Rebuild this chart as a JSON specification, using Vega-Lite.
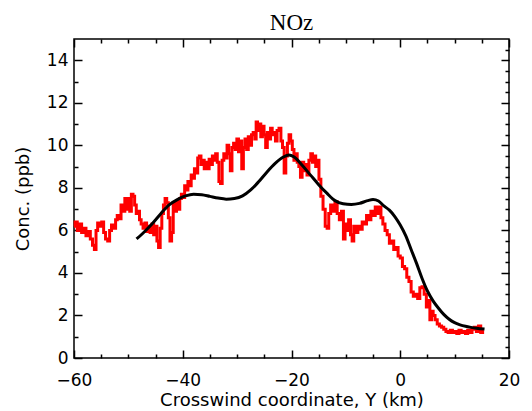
{
  "$schema": "https://vega.github.io/schema/vega-lite/v6.json",
  "width": 435,
  "height": 319,
  "autosize": "none",
  "padding": {"left": 74, "top": 39, "right": 23, "bottom": 53},
  "background": "white",
  "title": {"text": "NOz", "font": "Liberation Serif", "fontSize": 23, "fontWeight": "normal", "color": "black", "offset": 3},
  "config": {
    "view": {"stroke": "black", "strokeWidth": 1.5},
    "axis": {
      "domain": false,
      "tickColor": "black", "tickWidth": 1.5, "ticks": true, "tickSize": 8, "offset": -8,
      "labelFont": "DejaVu Sans", "labelFontSize": 17, "labelColor": "black",
      "titleFont": "DejaVu Sans", "titleFontSize": 18, "titleFontWeight": "normal", "titleColor": "black",
      "grid": false
    }
  },
  "datasets": {
    "measured": [
      {"y_km": -60.0, "conc": 6.2}, {"y_km": -59.6, "conc": 6.4}, {"y_km": -59.2, "conc": 6.0}, {"y_km": -58.8, "conc": 6.3},
      {"y_km": -58.4, "conc": 5.9}, {"y_km": -58.0, "conc": 6.1}, {"y_km": -57.6, "conc": 5.75}, {"y_km": -57.2, "conc": 5.95},
      {"y_km": -56.8, "conc": 5.6}, {"y_km": -56.4, "conc": 5.3}, {"y_km": -56.1, "conc": 5.1}, {"y_km": -55.8, "conc": 6.0},
      {"y_km": -55.5, "conc": 6.35}, {"y_km": -55.1, "conc": 6.2}, {"y_km": -54.7, "conc": 6.4}, {"y_km": -54.4, "conc": 5.9},
      {"y_km": -54.0, "conc": 5.6}, {"y_km": -53.6, "conc": 5.5}, {"y_km": -53.3, "conc": 6.0}, {"y_km": -52.9, "conc": 6.25},
      {"y_km": -52.5, "conc": 6.1}, {"y_km": -52.2, "conc": 6.5}, {"y_km": -51.9, "conc": 6.7}, {"y_km": -51.5, "conc": 6.55},
      {"y_km": -51.2, "conc": 7.2}, {"y_km": -50.8, "conc": 6.9}, {"y_km": -50.5, "conc": 7.5}, {"y_km": -50.2, "conc": 7.0},
      {"y_km": -49.9, "conc": 7.5}, {"y_km": -49.6, "conc": 6.9}, {"y_km": -49.3, "conc": 7.7}, {"y_km": -49.0, "conc": 7.6},
      {"y_km": -48.7, "conc": 7.2}, {"y_km": -48.4, "conc": 6.8}, {"y_km": -48.1, "conc": 6.9}, {"y_km": -47.8, "conc": 6.5},
      {"y_km": -47.5, "conc": 6.3}, {"y_km": -47.1, "conc": 6.1}, {"y_km": -46.8, "conc": 6.35}, {"y_km": -46.5, "conc": 5.95},
      {"y_km": -46.2, "conc": 6.2}, {"y_km": -45.8, "conc": 5.9}, {"y_km": -45.5, "conc": 6.3}, {"y_km": -45.2, "conc": 5.8},
      {"y_km": -44.9, "conc": 6.2}, {"y_km": -44.6, "conc": 5.5}, {"y_km": -44.3, "conc": 5.2}, {"y_km": -44.0, "conc": 6.1},
      {"y_km": -43.7, "conc": 6.8}, {"y_km": -43.4, "conc": 7.2}, {"y_km": -43.1, "conc": 7.5}, {"y_km": -42.8, "conc": 7.3},
      {"y_km": -42.5, "conc": 6.6}, {"y_km": -42.2, "conc": 5.5}, {"y_km": -41.9, "conc": 5.9}, {"y_km": -41.6, "conc": 7.3},
      {"y_km": -41.3, "conc": 6.9}, {"y_km": -41.0, "conc": 7.4}, {"y_km": -40.7, "conc": 7.0}, {"y_km": -40.4, "conc": 7.5},
      {"y_km": -40.1, "conc": 7.7}, {"y_km": -39.8, "conc": 7.55}, {"y_km": -39.5, "conc": 8.1}, {"y_km": -39.2, "conc": 7.9},
      {"y_km": -38.9, "conc": 8.3}, {"y_km": -38.6, "conc": 8.1}, {"y_km": -38.3, "conc": 8.6}, {"y_km": -38.0, "conc": 8.45},
      {"y_km": -37.7, "conc": 8.9}, {"y_km": -37.4, "conc": 8.7}, {"y_km": -37.1, "conc": 9.4}, {"y_km": -36.8, "conc": 9.5},
      {"y_km": -36.5, "conc": 9.1}, {"y_km": -36.2, "conc": 9.3}, {"y_km": -35.9, "conc": 8.9}, {"y_km": -35.6, "conc": 9.2},
      {"y_km": -35.3, "conc": 8.9}, {"y_km": -35.0, "conc": 9.35}, {"y_km": -34.7, "conc": 9.1}, {"y_km": -34.4, "conc": 9.5},
      {"y_km": -34.1, "conc": 9.3}, {"y_km": -33.8, "conc": 9.6}, {"y_km": -33.5, "conc": 9.2}, {"y_km": -33.2, "conc": 8.3},
      {"y_km": -32.9, "conc": 8.2}, {"y_km": -32.6, "conc": 9.3}, {"y_km": -32.3, "conc": 9.6}, {"y_km": -32.0, "conc": 9.4},
      {"y_km": -31.7, "conc": 10.0}, {"y_km": -31.4, "conc": 9.6}, {"y_km": -31.1, "conc": 8.8}, {"y_km": -30.8, "conc": 9.9},
      {"y_km": -30.5, "conc": 10.1}, {"y_km": -30.2, "conc": 9.8}, {"y_km": -29.9, "conc": 10.3}, {"y_km": -29.6, "conc": 9.7},
      {"y_km": -29.3, "conc": 10.2}, {"y_km": -29.0, "conc": 8.9}, {"y_km": -28.7, "conc": 9.9}, {"y_km": -28.4, "conc": 10.3},
      {"y_km": -28.1, "conc": 9.8}, {"y_km": -27.8, "conc": 10.4}, {"y_km": -27.5, "conc": 10.0}, {"y_km": -27.2, "conc": 10.5},
      {"y_km": -26.9, "conc": 10.6}, {"y_km": -26.6, "conc": 10.3}, {"y_km": -26.4, "conc": 11.1}, {"y_km": -26.1, "conc": 10.7},
      {"y_km": -25.8, "conc": 11.0}, {"y_km": -25.5, "conc": 10.4}, {"y_km": -25.2, "conc": 10.9}, {"y_km": -24.9, "conc": 10.5},
      {"y_km": -24.6, "conc": 9.9}, {"y_km": -24.3, "conc": 10.6}, {"y_km": -24.0, "conc": 10.3}, {"y_km": -23.7, "conc": 10.8},
      {"y_km": -23.4, "conc": 10.5}, {"y_km": -23.1, "conc": 10.6}, {"y_km": -22.8, "conc": 10.2}, {"y_km": -22.5, "conc": 10.7},
      {"y_km": -22.1, "conc": 10.8}, {"y_km": -21.8, "conc": 10.2}, {"y_km": -21.5, "conc": 9.9}, {"y_km": -21.2, "conc": 8.7},
      {"y_km": -20.9, "conc": 9.5}, {"y_km": -20.6, "conc": 10.1}, {"y_km": -20.3, "conc": 10.5}, {"y_km": -20.0, "conc": 10.2},
      {"y_km": -19.7, "conc": 9.8}, {"y_km": -19.4, "conc": 9.3}, {"y_km": -19.1, "conc": 9.6}, {"y_km": -18.8, "conc": 9.2},
      {"y_km": -18.5, "conc": 9.0}, {"y_km": -18.2, "conc": 8.5}, {"y_km": -17.9, "conc": 9.2}, {"y_km": -17.6, "conc": 8.8},
      {"y_km": -17.3, "conc": 9.1}, {"y_km": -17.0, "conc": 8.6}, {"y_km": -16.6, "conc": 9.3}, {"y_km": -16.3, "conc": 9.6},
      {"y_km": -16.0, "conc": 9.2}, {"y_km": -15.7, "conc": 9.5}, {"y_km": -15.4, "conc": 9.0}, {"y_km": -15.1, "conc": 9.3},
      {"y_km": -14.8, "conc": 8.4}, {"y_km": -14.4, "conc": 7.6}, {"y_km": -14.0, "conc": 7.0}, {"y_km": -13.6, "conc": 6.2},
      {"y_km": -13.3, "conc": 6.1}, {"y_km": -13.0, "conc": 6.8}, {"y_km": -12.6, "conc": 7.2}, {"y_km": -12.2, "conc": 6.9},
      {"y_km": -11.8, "conc": 7.35}, {"y_km": -11.4, "conc": 6.8}, {"y_km": -11.0, "conc": 6.5}, {"y_km": -10.6, "conc": 6.9},
      {"y_km": -10.3, "conc": 5.6}, {"y_km": -10.0, "conc": 6.3}, {"y_km": -9.7, "conc": 6.0}, {"y_km": -9.3, "conc": 6.5},
      {"y_km": -9.0, "conc": 5.8}, {"y_km": -8.7, "conc": 5.5}, {"y_km": -8.4, "conc": 6.2}, {"y_km": -8.0, "conc": 5.9},
      {"y_km": -7.6, "conc": 6.2}, {"y_km": -7.2, "conc": 6.05}, {"y_km": -6.8, "conc": 6.4}, {"y_km": -6.4, "conc": 6.3},
      {"y_km": -6.0, "conc": 6.7}, {"y_km": -5.6, "conc": 6.5}, {"y_km": -5.2, "conc": 6.9}, {"y_km": -4.8, "conc": 6.7},
      {"y_km": -4.4, "conc": 7.1}, {"y_km": -4.0, "conc": 6.8}, {"y_km": -3.7, "conc": 7.1}, {"y_km": -3.4, "conc": 6.6},
      {"y_km": -3.0, "conc": 6.3}, {"y_km": -2.6, "conc": 6.0}, {"y_km": -2.2, "conc": 5.8}, {"y_km": -1.8, "conc": 5.4},
      {"y_km": -1.4, "conc": 5.5}, {"y_km": -1.0, "conc": 5.1}, {"y_km": -0.6, "conc": 5.2}, {"y_km": -0.2, "conc": 4.8},
      {"y_km": 0.2, "conc": 4.7}, {"y_km": 0.6, "conc": 4.3}, {"y_km": 1.0, "conc": 4.2}, {"y_km": 1.4, "conc": 3.8},
      {"y_km": 1.8, "conc": 3.6}, {"y_km": 2.2, "conc": 3.1}, {"y_km": 2.6, "conc": 2.9}, {"y_km": 3.0, "conc": 3.0},
      {"y_km": 3.4, "conc": 2.8}, {"y_km": 3.8, "conc": 3.3}, {"y_km": 4.2, "conc": 3.35}, {"y_km": 4.6, "conc": 3.0},
      {"y_km": 5.0, "conc": 2.4}, {"y_km": 5.3, "conc": 2.7}, {"y_km": 5.6, "conc": 1.8}, {"y_km": 5.9, "conc": 2.2},
      {"y_km": 6.2, "conc": 2.0}, {"y_km": 6.6, "conc": 1.8}, {"y_km": 7.0, "conc": 1.6}, {"y_km": 7.4, "conc": 1.5},
      {"y_km": 7.8, "conc": 1.45}, {"y_km": 8.2, "conc": 1.35}, {"y_km": 8.6, "conc": 1.25}, {"y_km": 9.0, "conc": 1.2},
      {"y_km": 9.4, "conc": 1.3}, {"y_km": 9.8, "conc": 1.2}, {"y_km": 10.2, "conc": 1.25}, {"y_km": 10.6, "conc": 1.15},
      {"y_km": 11.0, "conc": 1.3}, {"y_km": 11.4, "conc": 1.2}, {"y_km": 11.8, "conc": 1.25}, {"y_km": 12.2, "conc": 1.15},
      {"y_km": 12.6, "conc": 1.3}, {"y_km": 13.0, "conc": 1.2}, {"y_km": 13.4, "conc": 1.35}, {"y_km": 13.8, "conc": 1.45},
      {"y_km": 14.2, "conc": 1.25}, {"y_km": 14.6, "conc": 1.5}, {"y_km": 15.0, "conc": 1.2}, {"y_km": 15.3, "conc": 1.3}
    ],
    "model": [
      {"y_km": -48.5, "conc": 5.6}, {"y_km": -47.0, "conc": 5.95}, {"y_km": -45.5, "conc": 6.35}, {"y_km": -44.0, "conc": 6.8},
      {"y_km": -42.5, "conc": 7.2}, {"y_km": -41.0, "conc": 7.45}, {"y_km": -39.5, "conc": 7.62}, {"y_km": -38.0, "conc": 7.7},
      {"y_km": -36.5, "conc": 7.68}, {"y_km": -35.0, "conc": 7.6}, {"y_km": -33.5, "conc": 7.52}, {"y_km": -32.0, "conc": 7.47},
      {"y_km": -30.5, "conc": 7.5}, {"y_km": -29.0, "conc": 7.62}, {"y_km": -27.5, "conc": 7.9}, {"y_km": -26.0, "conc": 8.3},
      {"y_km": -24.5, "conc": 8.75}, {"y_km": -23.0, "conc": 9.15}, {"y_km": -21.5, "conc": 9.45}, {"y_km": -20.5, "conc": 9.55},
      {"y_km": -19.5, "conc": 9.45}, {"y_km": -18.0, "conc": 9.05}, {"y_km": -16.5, "conc": 8.6}, {"y_km": -15.0, "conc": 8.15},
      {"y_km": -13.5, "conc": 7.75}, {"y_km": -12.0, "conc": 7.4}, {"y_km": -10.5, "conc": 7.25}, {"y_km": -9.0, "conc": 7.22},
      {"y_km": -7.5, "conc": 7.27}, {"y_km": -6.0, "conc": 7.4}, {"y_km": -5.0, "conc": 7.45}, {"y_km": -4.0, "conc": 7.38},
      {"y_km": -3.0, "conc": 7.15}, {"y_km": -2.0, "conc": 6.95}, {"y_km": -1.0, "conc": 6.65}, {"y_km": 0.0, "conc": 6.25},
      {"y_km": 1.0, "conc": 5.75}, {"y_km": 2.0, "conc": 5.1}, {"y_km": 3.0, "conc": 4.45}, {"y_km": 4.0, "conc": 3.75},
      {"y_km": 5.0, "conc": 3.15}, {"y_km": 6.0, "conc": 2.7}, {"y_km": 7.0, "conc": 2.35}, {"y_km": 8.0, "conc": 2.05},
      {"y_km": 9.0, "conc": 1.82}, {"y_km": 10.0, "conc": 1.66}, {"y_km": 11.0, "conc": 1.56}, {"y_km": 12.0, "conc": 1.49},
      {"y_km": 13.0, "conc": 1.44}, {"y_km": 14.0, "conc": 1.4}, {"y_km": 15.5, "conc": 1.36}
    ]
  },
  "layer": [
    {
      "data": {"name": "measured"},
      "mark": {"type": "line", "color": "#ff0000", "strokeWidth": 3, "interpolate": "step"},
      "encoding": {
        "x": {
          "field": "y_km", "type": "quantitative",
          "scale": {"domain": [-60, 20], "nice": false, "zero": false},
          "axis": {
            "orient": "bottom", "title": "Crosswind coordinate, Y (km)",
            "values": [-60, -55, -50, -45, -40, -35, -30, -25, -20, -15, -10, -5, 0, 5, 10, 15, 20],
            "labelExpr": "datum.value % 20 === 0 ? datum.label : ''",
            "tickDash": {"condition": {"test": "datum.value % 20 !== 0", "value": [0, 4, 4, 40]}, "value": [40, 0]},
            "labelPadding": 14, "labelFlush": false, "titlePadding": 3
          }
        },
        "y": {
          "field": "conc", "type": "quantitative",
          "scale": {"domain": [0, 15], "nice": false, "zero": false},
          "axis": {
            "orient": "left", "title": "Conc. (ppb)", "format": "d",
            "values": [0, 0.5, 1, 1.5, 2, 2.5, 3, 3.5, 4, 4.5, 5, 5.5, 6, 6.5, 7, 7.5, 8, 8.5, 9, 9.5, 10, 10.5, 11, 11.5, 12, 12.5, 13, 13.5, 14, 14.5],
            "labelExpr": "datum.value % 2 === 0 ? datum.label : ''",
            "tickDash": {"condition": {"test": "datum.value % 2 !== 0", "value": [0, 4, 4, 40]}, "value": [40, 0]},
            "labelPadding": 6, "labelFlush": false, "titlePadding": 14
          }
        }
      }
    },
    {
      "data": {"name": "model"},
      "mark": {"type": "line", "color": "black", "strokeWidth": 3, "interpolate": "monotone"},
      "encoding": {
        "x": {
          "field": "y_km", "type": "quantitative",
          "scale": {"domain": [-60, 20], "nice": false, "zero": false},
          "axis": {
            "orient": "top", "title": null, "labels": false,
            "values": [-60, -55, -50, -45, -40, -35, -30, -25, -20, -15, -10, -5, 0, 5, 10, 15, 20],
            "tickDash": {"condition": {"test": "datum.value % 20 !== 0", "value": [0, 4, 4, 40]}, "value": [40, 0]}
          }
        },
        "y": {
          "field": "conc", "type": "quantitative",
          "scale": {"domain": [0, 15], "nice": false, "zero": false},
          "axis": {
            "orient": "right", "title": null, "labels": false,
            "values": [0, 0.5, 1, 1.5, 2, 2.5, 3, 3.5, 4, 4.5, 5, 5.5, 6, 6.5, 7, 7.5, 8, 8.5, 9, 9.5, 10, 10.5, 11, 11.5, 12, 12.5, 13, 13.5, 14, 14.5],
            "tickDash": {"condition": {"test": "datum.value % 2 !== 0", "value": [0, 4, 4, 40]}, "value": [40, 0]}
          }
        }
      }
    }
  ],
  "resolve": {"axis": {"x": "independent", "y": "independent"}}
}
